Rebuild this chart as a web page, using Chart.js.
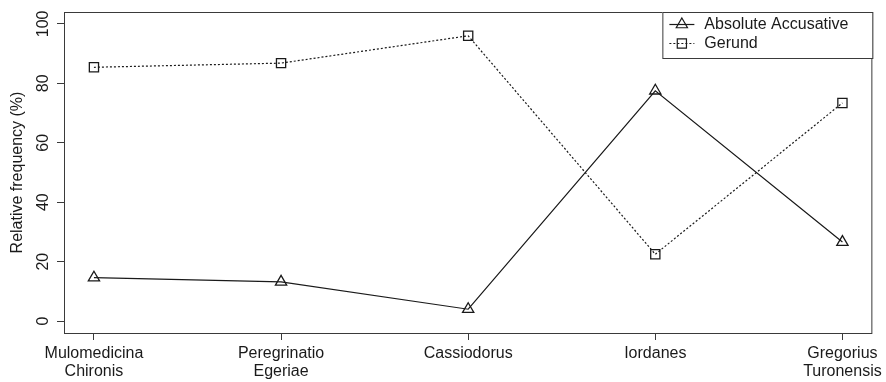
<!DOCTYPE html>
<html>
<head>
<meta charset="utf-8">
<script src="https://cdn.jsdelivr.net/npm/chart.js@4/dist/chart.umd.min.js"></script>
<style>
  html, body { margin: 0; padding: 0; background: #fff; }
  #wrap { width: 886px; height: 382px; }
</style>
</head>
<body>
<div id="wrap"><canvas id="chart"></canvas></div>
<script>
const categories = [
  ["Mulomedicina", "Chironis"],
  ["Peregrinatio", "Egeriae"],
  ["Cassiodorus"],
  ["Iordanes"],
  ["Gregorius", "Turonensis"],
];
const seriesNames = ["Absolute Accusative", "Gerund"];
const absoluteAccusative = [14.6, 13.2, 4.0, 77.5, 26.6];
const gerund = [85.4, 86.8, 96.0, 22.5, 73.4];
const yTicks = [0, 20, 40, 60, 80, 100];

const FONT = "'Liberation Sans', Arial, Helvetica, sans-serif";
const INK = "#1a1a1a";
const FRAME = "#3a3a3a";

const toPoints = (arr) => arr.map((v, i) => ({ x: i + 1, y: v }));

// box around the plot area, like R's bty="o"
const frame = {
  id: "frame",
  afterDraw(chart) {
    const { ctx, chartArea: a } = chart;
    ctx.save();
    ctx.strokeStyle = FRAME;
    ctx.lineWidth = 1;
    ctx.strokeRect(a.left + 0.5, a.top + 0.5, a.right - a.left - 1, a.bottom - a.top);
    ctx.restore();
  },
};

// R-style legend box in the top-right corner
const legendBox = {
  id: "legendBox",
  afterDraw(chart) {
    const { ctx, chartArea: a } = chart;
    const w = 210, h = 46;
    const x0 = a.right - w, y0 = a.top;
    ctx.save();
    ctx.fillStyle = "#fff";
    ctx.fillRect(x0, y0, w, h);
    ctx.strokeStyle = FRAME;
    ctx.lineWidth = 1;
    ctx.strokeRect(x0 + 0.5, y0 + 0.5, w, h);
    chart.data.datasets.forEach((ds, i) => {
      const y = y0 + 12 + i * 19;
      ctx.strokeStyle = ds.borderColor;
      ctx.lineWidth = ds.borderWidth;
      ctx.setLineDash(ds.borderDash || []);
      ctx.beginPath();
      ctx.moveTo(x0 + 7, y + 0.5);
      ctx.lineTo(x0 + 32, y + 0.5);
      ctx.stroke();
      ctx.setLineDash([]);
      ctx.fillStyle = "rgba(0,0,0,0)";
      ctx.strokeStyle = ds.pointBorderColor;
      Chart.helpers.drawPoint(ctx, {
        pointStyle: ds.pointStyle,
        radius: ds.pointRadius,
        borderWidth: ds.pointBorderWidth,
      }, x0 + 19.5, y + 0.5);
      ctx.fillStyle = INK;
      ctx.font = "16px " + FONT;
      ctx.textBaseline = "middle";
      ctx.textAlign = "left";
      ctx.fillText(ds.label, x0 + 42, y + 1);
    });
    ctx.restore();
  },
};

new Chart(document.getElementById("chart"), {
  type: "line",
  data: {
    datasets: [
      {
        label: seriesNames[0],
        data: toPoints(absoluteAccusative),
        borderColor: INK,
        borderWidth: 1.2,
        pointStyle: "triangle",
        pointRadius: 6.5,
        pointBorderWidth: 1.3,
        pointBackgroundColor: "rgba(0,0,0,0)",
        pointBorderColor: INK,
        tension: 0,
      },
      {
        label: seriesNames[1],
        data: toPoints(gerund),
        borderColor: INK,
        borderWidth: 1.2,
        borderDash: [2, 2],
        pointStyle: "rect",
        pointRadius: 6.5,
        pointBorderWidth: 1.3,
        pointBackgroundColor: "rgba(0,0,0,0)",
        pointBorderColor: INK,
        tension: 0,
      },
    ],
  },
  options: {
    responsive: true,
    maintainAspectRatio: false,
    animation: false,
    devicePixelRatio: 1,
    layout: { padding: { top: 12, right: 8, left: 0, bottom: 0 } },
    plugins: {
      legend: { display: false },
      tooltip: { enabled: false },
    },
    scales: {
      x: {
        type: "linear",
        min: 0.84,
        max: 5.16,
        afterBuildTicks: (s) => { s.ticks = categories.map((c, i) => ({ value: i + 1 })); },
        afterFit: (s) => { s.height = 49; },
        border: { display: false },
        grid: { drawOnChartArea: false, tickLength: 7, color: FRAME },
        ticks: {
          color: INK,
          font: { family: FONT, size: 16, lineHeight: 1.15 },
          padding: 4,
          maxRotation: 0,
          minRotation: 0,
          autoSkip: false,
          callback: (v) => categories[v - 1],
        },
      },
      y: {
        type: "linear",
        min: -4,
        max: 104,
        afterBuildTicks: (s) => { s.ticks = yTicks.map((v) => ({ value: v })); },
        afterFit: (s) => { s.width = 64; },
        border: { display: false },
        grid: { drawOnChartArea: false, tickLength: 7, color: FRAME },
        title: {
          display: true,
          text: "Relative frequency (%)",
          color: INK,
          font: { family: FONT, size: 16 },
          padding: { top: 8, bottom: 0 },
        },
        ticks: {
          color: INK,
          font: { family: FONT, size: 16 },
          minRotation: 90,
          maxRotation: 90,
          crossAlign: "center",
          padding: 0,
        },
      },
    },
  },
  plugins: [frame, legendBox],
});
</script>
</body>
</html>
